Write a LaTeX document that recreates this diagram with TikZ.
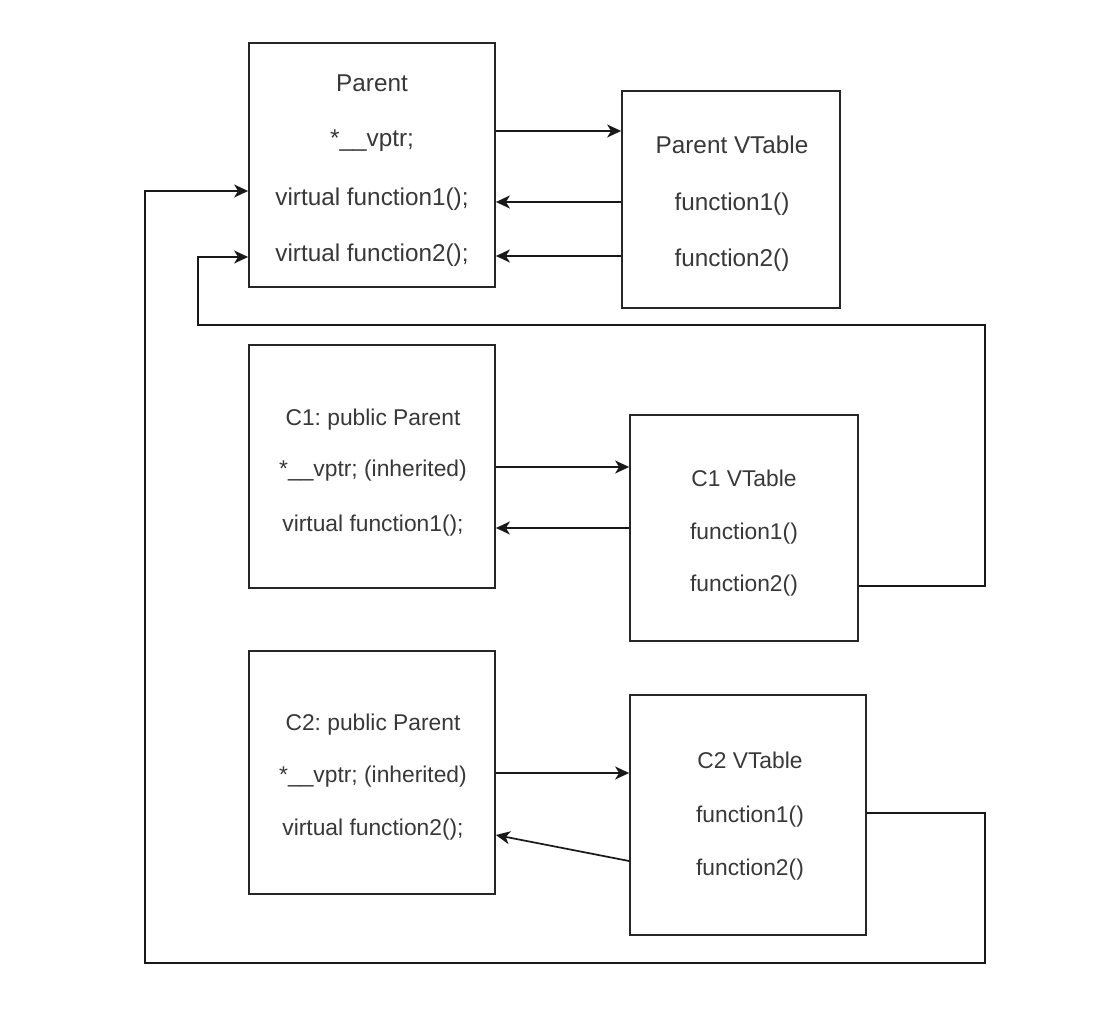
\documentclass[tikz,border=0pt]{standalone}
\usepackage{fontspec}
\setmainfont{Liberation Sans}
\usetikzlibrary{arrows.meta}
\frenchspacing
\begin{document}
\begin{tikzpicture}[x=1pt,y=-1pt,
  box/.style={draw=black!85,line width=1.8pt,rectangle,inner sep=0pt},
  txt/.style={inner sep=0pt,text=black!78,text height=17pt,text depth=0pt,
    font=\fontsize{24.3}{28}\selectfont},
  stxt/.style={txt,font=\fontsize{22.8}{27}\selectfont},
  link/.style={draw=black!90,line width=1.7pt,
    -{Stealth[length=14pt,width=13pt,inset=4pt]}}]
\useasboundingbox[fill=white] (0,0) rectangle (1093,1019);

% Parent class and its vtable
\node[box,minimum width=246pt,minimum height=244pt] (pbox) at (372,165) {};
\node[txt] (pname) at (372,83) {Parent};
\node[txt] (pptr) at (372,138) {*\_\_vptr;};
\node[txt] (pf1) at (372,197) {virtual function1();};
\node[txt] (pf2) at (372,253) {virtual function2();};

\node[box,minimum width=218pt,minimum height=217pt] (pvt) at (731,199.5) {};
\node[txt] (pvtname) at (732,145) {Parent VTable};
\node[txt] (pvtf1) at (732,202) {function1()};
\node[txt] (pvtf2) at (732,258) {function2()};

% C1 and its vtable
\node[box,minimum width=246pt,minimum height=243pt] (c1box) at (372,466.5) {};
\node[stxt] (c1name) at (373,417) {C1: public Parent};
\node[stxt] (c1ptr) at (373,468) {*\_\_vptr; (inherited)};
\node[stxt] (c1f1) at (373,523) {virtual function1();};

\node[box,minimum width=228pt,minimum height=226pt] (c1vt) at (744,528) {};
\node[stxt] (c1vtname) at (744,478) {C1 VTable};
\node[stxt] (c1vtf1) at (744,531) {function1()};
\node[stxt] (c1vtf2) at (744,583) {function2()};

% C2 and its vtable
\node[box,minimum width=246pt,minimum height=243pt] (c2box) at (372,772.5) {};
\node[stxt] (c2name) at (373,722) {C2: public Parent};
\node[stxt] (c2ptr) at (373,774) {*\_\_vptr; (inherited)};
\node[stxt] (c2f2) at (373,827) {virtual function2();};

\node[box,minimum width=236pt,minimum height=240pt] (c2vt) at (748,815) {};
\node[stxt] (c2vtname) at (750,760) {C2 VTable};
\node[stxt] (c2vtf1) at (750,814) {function1()};
\node[stxt] (c2vtf2) at (750,867) {function2()};

% routing corners
\coordinate (r1) at (985,325);
\coordinate (l1) at (198,257);
\coordinate (r2) at (985,963);
\coordinate (l2) at (145,191);

% Parent pointers
\draw[link] (pbox.east |- 0,131) -- (pvt.west |- 0,131);
\draw[link] (pvt.west |- 0,202) -- (pbox.east |- 0,202);
\draw[link] (pvt.west |- 0,256) -- (pbox.east |- 0,256);

% C1 pointers
\draw[link] (c1box.east |- 0,467) -- (c1vt.west |- 0,467);
\draw[link] (c1vt.west |- 0,528) -- (c1box.east |- 0,528);

% C2 pointers
\draw[link] (c2box.east |- 0,773) -- (c2vt.west |- 0,773);
\draw[link] (c2vt.west |- 0,861) -- (c2box.east |- 0,835);

% inherited entries resolve to Parent
\draw[link] (c1vt.east |- 0,586) -| (r1) -| (l1) -- (pbox.west |- l1);
\draw[link] (c2vt.east |- 0,813) -| (r2) -| (l2) -- (pbox.west |- l2);
\end{tikzpicture}
\end{document}
